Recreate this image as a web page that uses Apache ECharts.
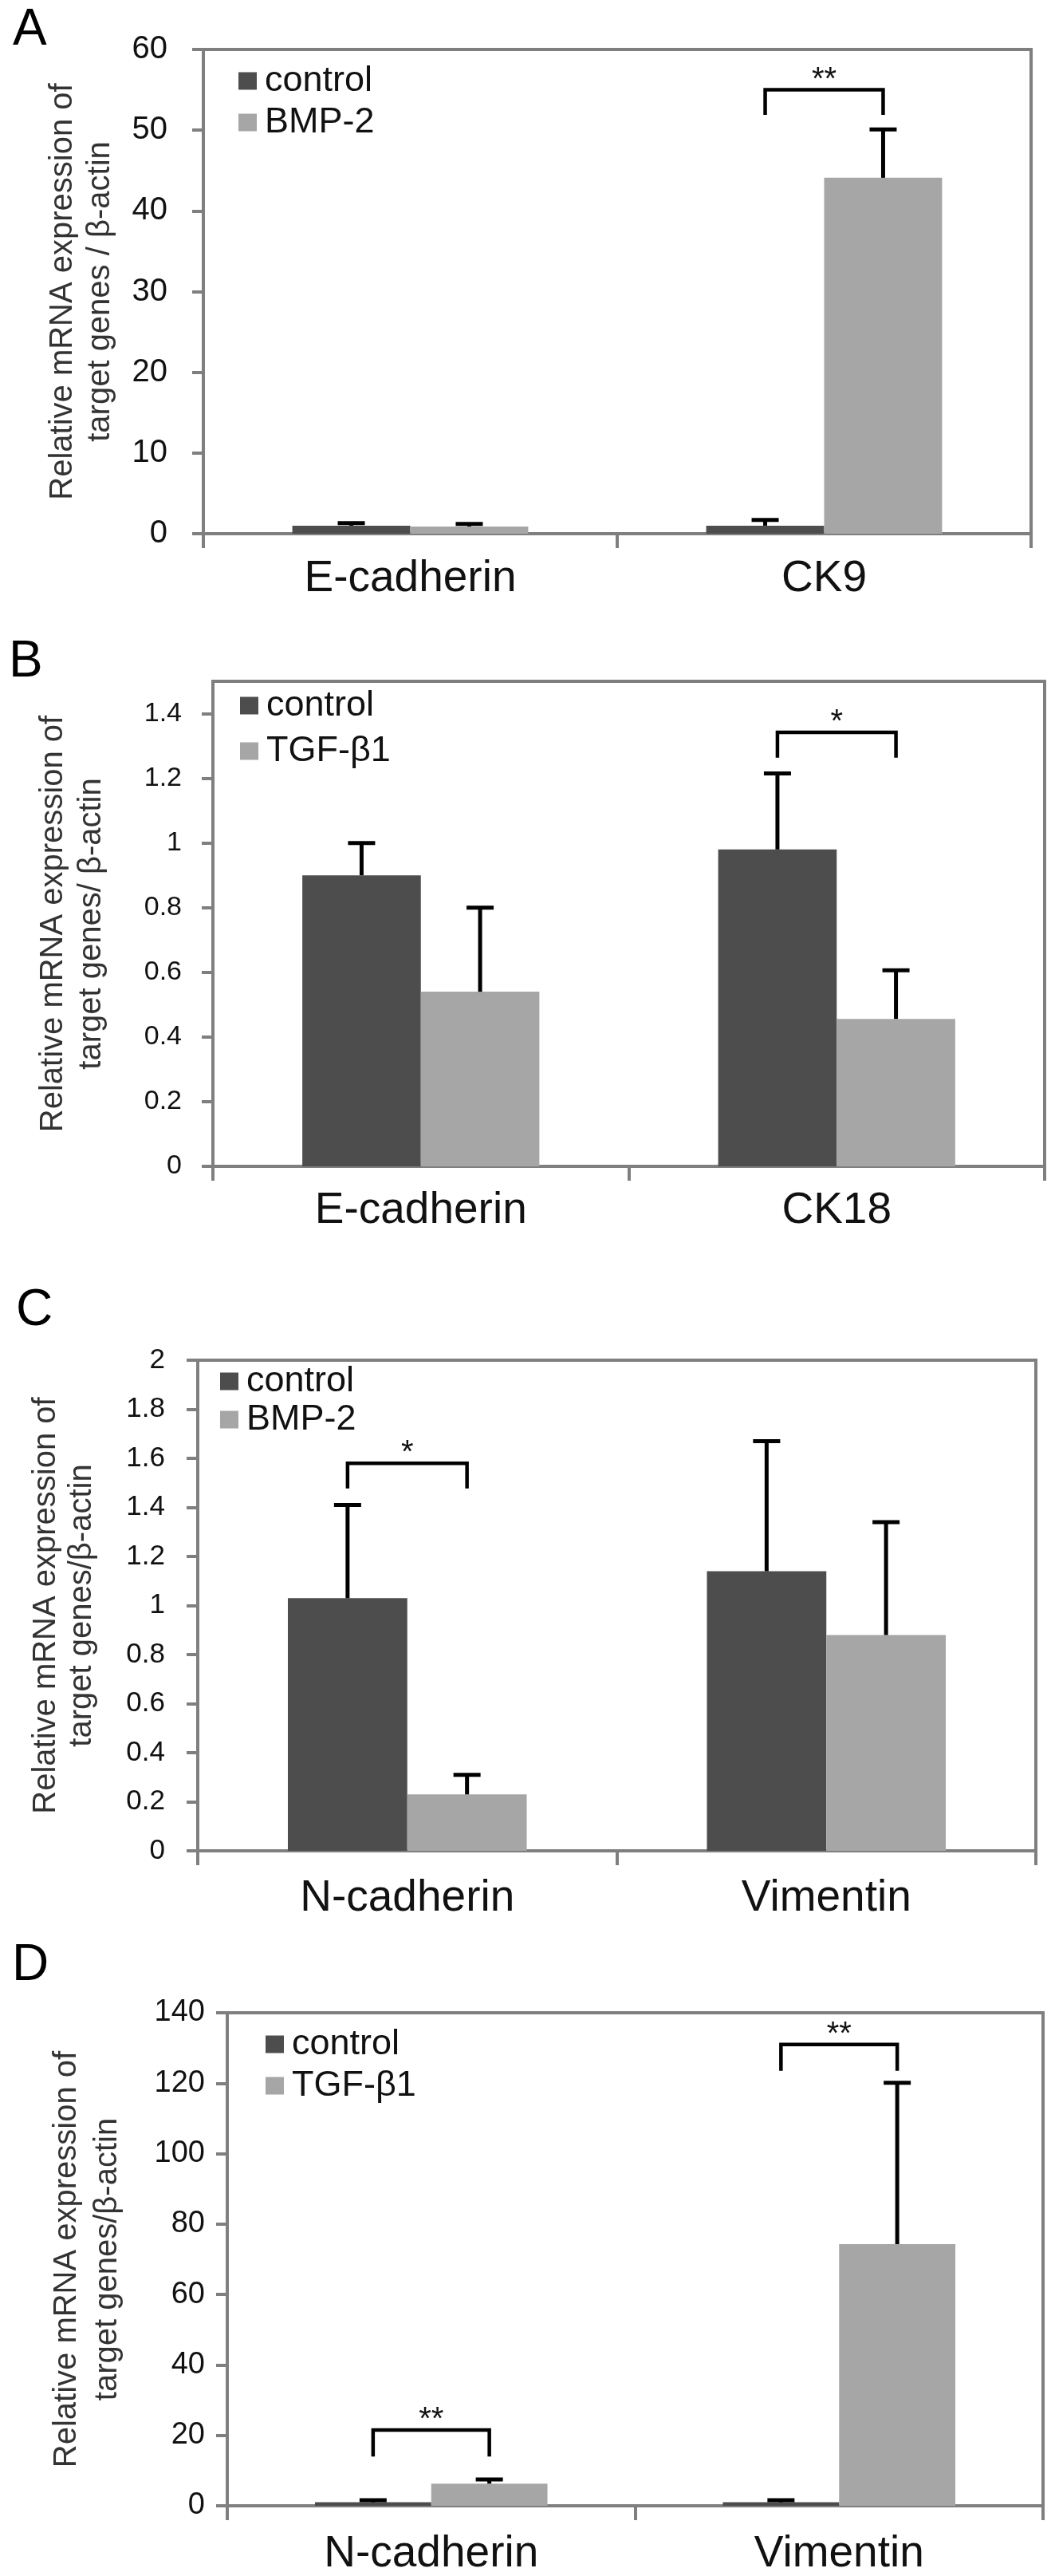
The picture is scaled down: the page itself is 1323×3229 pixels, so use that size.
<!DOCTYPE html>
<html><head><meta charset="utf-8">
<script src="https://cdn.jsdelivr.net/npm/echarts@6/dist/echarts.min.js"></script>
<style>html,body{margin:0;padding:0;background:#fff}#c{width:1323px;height:3229px}</style>
</head><body><div id="c"></div>
<script>
// ---------- Panel A ----------
const catsA = ['E-cadherin', 'CK9'];
const groupsA = ['control', 'BMP-2'];
const ctrlA = [1.0, 1.0];
const ctrlErrA = [0.3, 0.7];
const trtA = [0.9, 44.1];
const trtErrA = [0.3, 6.0];
const yMaxA = 60, yStepA = 10;
const sigA = [[1, 55.0, 51.9, '**']];
const yNameA = 'Relative mRNA expression of\ntarget genes / β-actin';

// ---------- Panel B ----------
const catsB = ['E-cadherin', 'CK18'];
const groupsB = ['control', 'TGF-β1'];
const ctrlB = [0.9, 0.98];
const ctrlErrB = [0.1, 0.235];
const trtB = [0.54, 0.456];
const trtErrB = [0.26, 0.15];
const yMaxB = 1.5, yStepB = 0.2;
const yTicksB = [0, 0.2, 0.4, 0.6, 0.8, 1, 1.2, 1.4];
const sigB = [[1, 1.342, 1.264, '*']];
const yNameB = 'Relative mRNA expression of\ntarget genes/ β-actin';

// ---------- Panel C ----------
const catsC = ['N-cadherin', 'Vimentin'];
const groupsC = ['control', 'BMP-2'];
const ctrlC = [1.03, 1.14];
const ctrlErrC = [0.38, 0.53];
const trtC = [0.23, 0.88];
const trtErrC = [0.08, 0.46];
const yMaxC = 2, yStepC = 0.2;
const sigC = [[0, 1.58, 1.477, '*']];
const yNameC = 'Relative mRNA expression of\ntarget genes/β-actin';

// ---------- Panel D ----------
const catsD = ['N-cadherin', 'Vimentin'];
const groupsD = ['control', 'TGF-β1'];
const ctrlD = [1.0, 1.0];
const ctrlErrD = [0.6, 0.6];
const trtD = [6.3, 74.3];
const trtErrD = [1.2, 45.8];
const yMaxD = 140, yStepD = 20;
const sigD = [[0, 21.5, 14.0, '**'], [1, 131.0, 123.5, '**']];
const yNameD = 'Relative mRNA expression of\ntarget genes/β-actin';

const FONT = '"Liberation Sans", Arial, Helvetica, sans-serif';
const AXIS_GRAY = '#7f7f7f';
const DARK = '#4d4d4d';
const LIGHT = '#a6a6a6';
const BAR_RATIO = 0.285;

function errRender(sign) {
  return function (params, api) {
    const cat = api.value(0), v = api.value(1), e = api.value(2);
    const base = api.coord([cat, v]);
    const top = api.coord([cat, v + e]);
    const cw = api.size([1, 0])[0];
    const x = base[0] + sign * cw * BAR_RATIO / 2;
    const half = 17;
    return { type: 'group', children: [
      { type: 'line', shape: { x1: x, y1: base[1], x2: x, y2: top[1] }, style: { stroke: '#000', lineWidth: 5 } },
      { type: 'line', shape: { x1: x - half, y1: top[1], x2: x + half, y2: top[1] }, style: { stroke: '#000', lineWidth: 5 } }
    ]};
  };
}

function sigRender(sig) {
  return function (params, api) {
    const cat = api.value(0), top = api.value(1), leg = api.value(2);
    const cw = api.size([1, 0])[0];
    const c = api.coord([cat, top]);
    const yLeg = api.coord([cat, leg])[1];
    const off = cw * BAR_RATIO / 2;
    const xl = c[0] - off, xr = c[0] + off;
    return { type: 'group', children: [
      { type: 'polyline', shape: { points: [[xl, yLeg], [xl, c[1]], [xr, c[1]], [xr, yLeg]] },
        style: { stroke: '#000', lineWidth: 4.5, fill: 'none' } },
      { type: 'text', style: { text: sig[params.dataIndex][3], x: c[0], y: c[1] + 8,
        align: 'center', verticalAlign: 'bottom', fontSize: 40, fontFamily: FONT, fill: '#111' } }
    ]};
  };
}

const panels = [
  { cats: catsA, groups: groupsA, ctrl: ctrlA, ctrlErr: ctrlErrA, trt: trtA, trtErr: trtErrA,
    max: yMaxA, step: yStepA, ticks: null, sig: sigA, yName: yNameA,
    grid: { left: 255, top: 62, width: 1038, height: 607 },
    yFont: 40, yMargin: 45, nameGap: 106, nameLH: 47, xMargin: 29,
    legend: { left: 299, top: 79, gap: 7 } },
  { cats: catsB, groups: groupsB, ctrl: ctrlB, ctrlErr: ctrlErrB, trt: trtB, trtErr: trtErrB,
    max: yMaxB, step: yStepB, ticks: yTicksB, sig: sigB, yName: yNameB,
    grid: { left: 267, top: 854, width: 1043, height: 608 },
    yFont: 34, yMargin: 39, nameGap: 128, nameLH: 48, xMargin: 28,
    legend: { left: 301, top: 862, gap: 12 } },
  { cats: catsC, groups: groupsC, ctrl: ctrlC, ctrlErr: ctrlErrC, trt: trtC, trtErr: trtErrC,
    max: yMaxC, step: yStepC, ticks: null, sig: sigC, yName: yNameC,
    grid: { left: 248, top: 1705, width: 1051, height: 615 },
    yFont: 35, yMargin: 41, nameGap: 123, nameLH: 45, xMargin: 32,
    legend: { left: 276, top: 1709, gap: 3 } },
  { cats: catsD, groups: groupsD, ctrl: ctrlD, ctrlErr: ctrlErrD, trt: trtD, trtErr: trtErrD,
    max: yMaxD, step: yStepD, ticks: null, sig: sigD, yName: yNameD,
    grid: { left: 285, top: 2523, width: 1023, height: 618 },
    yFont: 38, yMargin: 28, nameGap: 125, nameLH: 51, xMargin: 33,
    legend: { left: 333, top: 2540, gap: 7 } }
];

const option = { animation: false, backgroundColor: '#fff', grid: [], xAxis: [], yAxis: [], legend: [], series: [],
  graphic: [
    { type: 'text', left: 16, top: 6, style: { text: 'A', fontSize: 64, fontFamily: FONT, fill: '#000' } },
    { type: 'text', left: 11, top: 798, style: { text: 'B', fontSize: 64, fontFamily: FONT, fill: '#000' } },
    { type: 'text', left: 20, top: 1611, style: { text: 'C', fontSize: 64, fontFamily: FONT, fill: '#000' } },
    { type: 'text', left: 15, top: 2432, style: { text: 'D', fontSize: 64, fontFamily: FONT, fill: '#000' } }
  ]
};

panels.forEach((p, i) => {
  option.grid.push(Object.assign({ show: true, borderColor: AXIS_GRAY, borderWidth: 4, backgroundColor: '#fff',
    containLabel: false, outerBoundsMode: 'none' }, p.grid));
  option.xAxis.push({
    type: 'category', gridIndex: i, data: p.cats, boundaryGap: true,
    axisLine: { show: true, lineStyle: { color: AXIS_GRAY, width: 4 } },
    axisTick: { show: true, length: 18, lineStyle: { color: AXIS_GRAY, width: 4 } },
    axisLabel: { fontSize: 55, color: '#111', fontFamily: FONT, margin: p.xMargin, interval: 0 },
    splitLine: { show: false }
  });
  const yAxis = {
    type: 'value', gridIndex: i, min: 0, max: p.max, interval: p.step,
    name: p.yName, nameLocation: 'middle', nameRotate: 90, nameGap: p.nameGap,
    nameTextStyle: { fontSize: 40, lineHeight: p.nameLH, color: '#333', fontFamily: FONT },
    axisLine: { show: true, lineStyle: { color: AXIS_GRAY, width: 4 } },
    axisTick: { show: true, length: 14, lineStyle: { color: AXIS_GRAY, width: 4 } },
    axisLabel: { fontSize: p.yFont, color: '#111', fontFamily: FONT, margin: p.yMargin },
    splitLine: { show: false }
  };
  if (p.ticks) {
    yAxis.axisTick.customValues = p.ticks;
    yAxis.axisLabel.customValues = p.ticks;
  }
  option.yAxis.push(yAxis);
  option.legend.push({
    orient: 'vertical', left: p.legend.left, top: p.legend.top, padding: 0, itemGap: p.legend.gap,
    itemWidth: 23, itemHeight: 22, icon: 'rect', data: p.groups,
    itemStyle: { borderWidth: 0 },
    textStyle: { fontSize: 45, lineHeight: 45, color: '#111', fontFamily: FONT, padding: [0, 0, 0, 5] }
  });
  option.series.push(
    { type: 'bar', name: p.groups[0], xAxisIndex: i, yAxisIndex: i, data: p.ctrl,
      barWidth: (BAR_RATIO * 100) + '%', barGap: '0%', itemStyle: { color: DARK } },
    { type: 'bar', name: p.groups[1], xAxisIndex: i, yAxisIndex: i, data: p.trt,
      barWidth: (BAR_RATIO * 100) + '%', barGap: '0%', itemStyle: { color: LIGHT } },
    { type: 'custom', name: 'err-ctrl-' + i, xAxisIndex: i, yAxisIndex: i, renderItem: errRender(-1),
      data: p.ctrl.map((v, k) => [k, v, p.ctrlErr[k]]), z: 5, silent: true },
    { type: 'custom', name: 'err-trt-' + i, xAxisIndex: i, yAxisIndex: i, renderItem: errRender(1),
      data: p.trt.map((v, k) => [k, v, p.trtErr[k]]), z: 5, silent: true },
    { type: 'custom', name: 'sig-' + i, xAxisIndex: i, yAxisIndex: i, renderItem: sigRender(p.sig),
      data: p.sig.map(s => [s[0], s[1], s[2]]), z: 5, silent: true }
  );
});

const chart = echarts.init(document.getElementById('c'), null, { renderer: 'canvas' });
chart.setOption(option);
</script>
</body></html>
